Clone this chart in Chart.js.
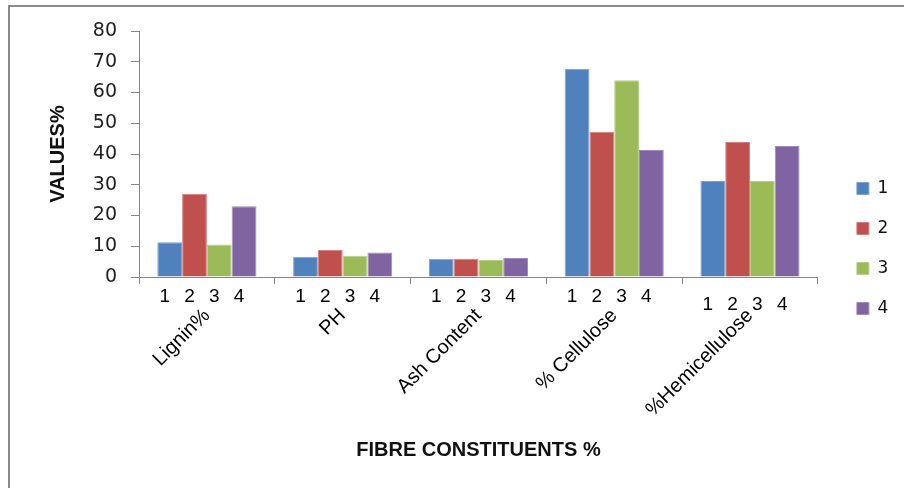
<!DOCTYPE html>
<html>
<head>
<meta charset="utf-8">
<script src="https://cdn.jsdelivr.net/npm/chart.js@4/dist/chart.umd.min.js"></script>
<style>
  html, body { margin: 0; padding: 0; background: #ffffff; }
  #wrap { position: relative; width: 904px; height: 488px; overflow: hidden; }
  #frame { position: absolute; left: 8px; top: 5px; width: 1000px; height: 1000px;
           border-left: 2.5px solid #8a8a8a; border-top: 2px solid #8a8a8a; pointer-events: none; }
  canvas { position: absolute; left: 0; top: 0; }
</style>
</head>
<body>
<div id="wrap">
  <canvas id="chart" width="904" height="488"></canvas>
  <div id="frame"></div>
</div>
<script>
// Fibre constituents measured for four samples
const categories = ['Lignin%', 'PH', 'Ash Content', '% Cellulose', '%Hemicellulose'];
const seriesNames = ['1', '2', '3', '4'];
const sample1 = [11.3, 6.6, 5.9, 67.7, 31.2];
const sample2 = [27.1, 8.8, 5.9, 47.2, 43.9];
const sample3 = [10.6, 6.9, 5.5, 64.0, 31.2];
const sample4 = [23.0, 8.0, 6.2, 41.3, 42.6];
const yTicks = [0, 10, 20, 30, 40, 50, 60, 70, 80];

const colors = ['#4F81BD', '#C0504D', '#9BBB59', '#8064A2'];
const edges  = ['#7DA1D1', '#D5807E', '#B8D08A', '#A08BBE'];
const seriesValues = [sample1, sample2, sample3, sample4];

const axisGray = '#868686';

// Series names written under each bar, between the axis and the category names
const seriesRow = {
  id: 'seriesRow',
  afterDraw(chart, args, opts) {
    const ctx = chart.ctx;
    const base = chart.scales.x.top + opts.offset;
    ctx.save();
    ctx.font = opts.font;
    ctx.fillStyle = opts.color;
    ctx.textAlign = 'center';
    ctx.textBaseline = 'middle';
    chart.data.datasets.forEach((ds, d) => {
      const meta = chart.getDatasetMeta(d);
      meta.data.forEach((bar, i) => {
        const y = base + (i === meta.data.length - 1 ? opts.lastDrop : 0);
        ctx.fillText(ds.label, bar.x + opts.shift, y);
      });
    });
    ctx.restore();
  }
};

// Moves the legend column a little further from the plot
const legendShift = {
  id: 'legendShift',
  afterLayout(chart, args, opts) {
    const lg = chart.legend;
    if (lg) { lg.left += opts.dx; lg.right += opts.dx; }
  }
};

new Chart(document.getElementById('chart'), {
  type: 'bar',
  data: {
    labels: categories,
    datasets: seriesNames.map((name, k) => ({
      label: name,
      data: seriesValues[k],
      backgroundColor: colors[k],
      borderColor: edges[k],
      borderWidth: 1,
      categoryPercentage: 0.73,
      barPercentage: 1.0
    }))
  },
  plugins: [seriesRow, legendShift],
  options: {
    responsive: false,
    maintainAspectRatio: false,
    devicePixelRatio: 1,
    animation: false,
    layout: { padding: { left: 10, top: 31, right: 21.8, bottom: 22 } },
    scales: {
      x: {
        grid: { display: true, offset: true, drawOnChartArea: false, drawTicks: true,
                tickLength: 7, color: axisGray, lineWidth: 1 },
        border: { display: true, color: axisGray, width: 1 },
        ticks: {
          color: '#000000',
          font: { family: '"Liberation Sans", Arial, sans-serif', size: 20 },
          minRotation: 45, maxRotation: 45, autoSkip: false, padding: 20
        },
        title: {
          display: true, text: 'FIBRE CONSTITUENTS %', color: '#111111',
          font: { family: '"Liberation Sans", Arial, sans-serif', size: 20, weight: 'bold' },
          padding: { top: 0, bottom: 4 }
        },
        afterFit(scale) { scale.height = 189; }
      },
      y: {
        min: 0, max: 80,
        afterBuildTicks(scale) { scale.ticks = yTicks.map(v => ({ value: v })); },
        grid: { display: true, drawOnChartArea: false, drawTicks: true, tickLength: 8,
                color: axisGray, lineWidth: 1 },
        border: { display: true, color: axisGray, width: 1 },
        ticks: {
          color: '#222222',
          font: { family: '"DejaVu Sans", Verdana, sans-serif', size: 19 },
          padding: 14
        },
        title: {
          display: true, text: 'VALUES%', color: '#111111',
          font: { family: '"Liberation Sans", Arial, sans-serif', size: 20, weight: 'bold' },
          padding: { top: 36, bottom: 0 }
        },
        afterFit(scale) { scale.width = 129; }
      }
    },
    plugins: {
      legend: {
        display: true,
        position: 'right',
        align: 'center',
        labels: {
          boxWidth: 12, boxHeight: 12, padding: 23,
          color: '#111111',
          font: { family: '"DejaVu Sans", Verdana, sans-serif', size: 17 }
        }
      },
      tooltip: { enabled: false },
      title: { display: false },
      seriesRow: {
        offset: 20, lastDrop: 8, shift: -5,
        color: '#000000',
        font: '19px "Liberation Sans", Arial, sans-serif'
      },
      legendShift: { dx: 16 }
    }
  }
});
</script>
</body>
</html>
